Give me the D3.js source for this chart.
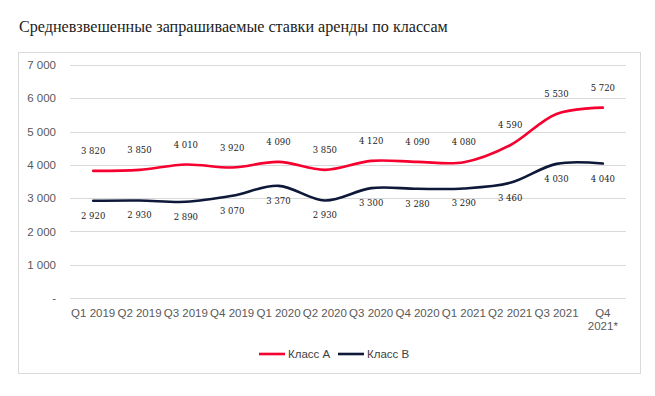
<!DOCTYPE html>
<html>
<head>
<meta charset="utf-8">
<script src="https://cdn.jsdelivr.net/npm/d3@7"></script>
<style>
  body { margin: 0; background: #fff; }
  svg { display: block; }
</style>
</head>
<body>
<div id="chart"></div>
<script>
const quarters = ['Q1 2019', 'Q2 2019', 'Q3 2019', 'Q4 2019', 'Q1 2020', 'Q2 2020',
  'Q3 2020', 'Q4 2020', 'Q1 2021', 'Q2 2021', 'Q3 2021', 'Q4 2021*'];
const classA = [3820, 3850, 4010, 3920, 4090, 3850, 4120, 4090, 4080, 4590, 5530, 5720];
const classB = [2920, 2930, 2890, 3070, 3370, 2930, 3300, 3280, 3290, 3460, 4030, 4040];
const yTicks = [0, 1000, 2000, 3000, 4000, 5000, 6000, 7000];
const seriesNames = ['Класс А', 'Класс В'];
const seriesColors = ['#f5002f', '#0e1838'];

const W = 655, H = 396;
const margin = { top: 65, right: 29, bottom: 98, left: 70 };
const width = W - margin.left - margin.right;
const height = H - margin.top - margin.bottom;

const svg = d3.select('#chart').append('svg')
  .attr('width', W).attr('height', H);

// title, sized to fit the same width as the original
const title = svg.append('text')
  .attr('x', 19).attr('y', 32)
  .attr('font-family', "'Liberation Serif', serif")
  .attr('font-size', 16)
  .attr('fill', '#222')
  .text('Средневзвешенные запрашиваемые ставки аренды по классам');
const tw = title.node().getComputedTextLength();
title.attr('font-size', 16 * 429 / tw);

// chart frame
svg.append('rect')
  .attr('x', 18.5).attr('y', 52.5)
  .attr('width', 622).attr('height', 321)
  .attr('fill', 'none').attr('stroke', '#d9d9d9');

const g = svg.append('g').attr('transform', `translate(${margin.left},${margin.top})`);

const x = d3.scaleBand().domain(quarters).range([0, width]);
const y = d3.scaleLinear().domain([0, 7000]).range([height, 0]);

// gridlines
g.append('g')
  .selectAll('line')
  .data(yTicks)
  .enter().append('line')
  .attr('x1', 0).attr('x2', width)
  .attr('y1', d => Math.round(y(d)) + 0.5).attr('y2', d => Math.round(y(d)) + 0.5)
  .attr('stroke', '#d9d9d9');

const fmt = d => d3.format(',')(d).replace(',', ' ');

// y axis labels
const yAxis = g.append('g')
  .call(d3.axisLeft(y).tickValues(yTicks).tickSize(0).tickPadding(14)
    .tickFormat(d => d === 0 ? '-' : fmt(d)));
yAxis.select('.domain').remove();
yAxis.selectAll('text')
  .attr('font-family', "'Liberation Sans', sans-serif")
  .attr('font-size', 11.5)
  .attr('fill', '#595959');

// x axis labels
const xAxis = g.append('g')
  .attr('transform', `translate(0,${height})`)
  .call(d3.axisBottom(x).tickSize(0).tickPadding(11));
xAxis.select('.domain').remove();
xAxis.selectAll('text')
  .attr('font-family', "'Liberation Sans', sans-serif")
  .attr('font-size', 11.5)
  .attr('fill', '#595959')
  .each(function (d) {
    if (d === 'Q4 2021*') {
      const t = d3.select(this);
      t.text('');
      t.append('tspan').attr('x', 0).attr('dy', '0.71em').text('Q4');
      t.append('tspan').attr('x', 0).attr('dy', '1.1em').text('2021*');
    }
  });

const line = d3.line()
  .x((d, i) => x(quarters[i]) + x.bandwidth() / 2)
  .y(d => y(d))
  .curve(d3.curveCatmullRom.alpha(0.5));

[classA, classB].forEach((vals, si) => {
  g.append('path')
    .datum(vals)
    .attr('fill', 'none')
    .attr('stroke', seriesColors[si])
    .attr('stroke-width', 2.6)
    .attr('stroke-linecap', 'round')
    .attr('d', line);

  g.append('g').selectAll('text')
    .data(vals)
    .enter().append('text')
    .attr('x', (d, i) => x(quarters[i]) + x.bandwidth() / 2)
    .attr('y', d => si === 0 ? y(d) - 17 : y(d) + 18)
    .attr('text-anchor', 'middle')
    .attr('font-family', "'DejaVu Serif', serif")
    .attr('font-size', 8.5)
    .attr('fill', '#222')
    .text(fmt);
});

// legend
const legend = svg.append('g').attr('transform', 'translate(259,354)');
const legendX = [0, 79];
seriesNames.forEach((name, i) => {
  const lg = legend.append('g').attr('transform', `translate(${legendX[i]},0)`);
  lg.append('line')
    .attr('x1', 0).attr('x2', 26)
    .attr('stroke', seriesColors[i]).attr('stroke-width', 2.6);
  lg.append('text')
    .attr('x', 29).attr('y', 4)
    .attr('font-family', "'Liberation Sans', sans-serif")
    .attr('font-size', 11.5)
    .attr('fill', '#404040')
    .text(name);
});
</script>
</body>
</html>
